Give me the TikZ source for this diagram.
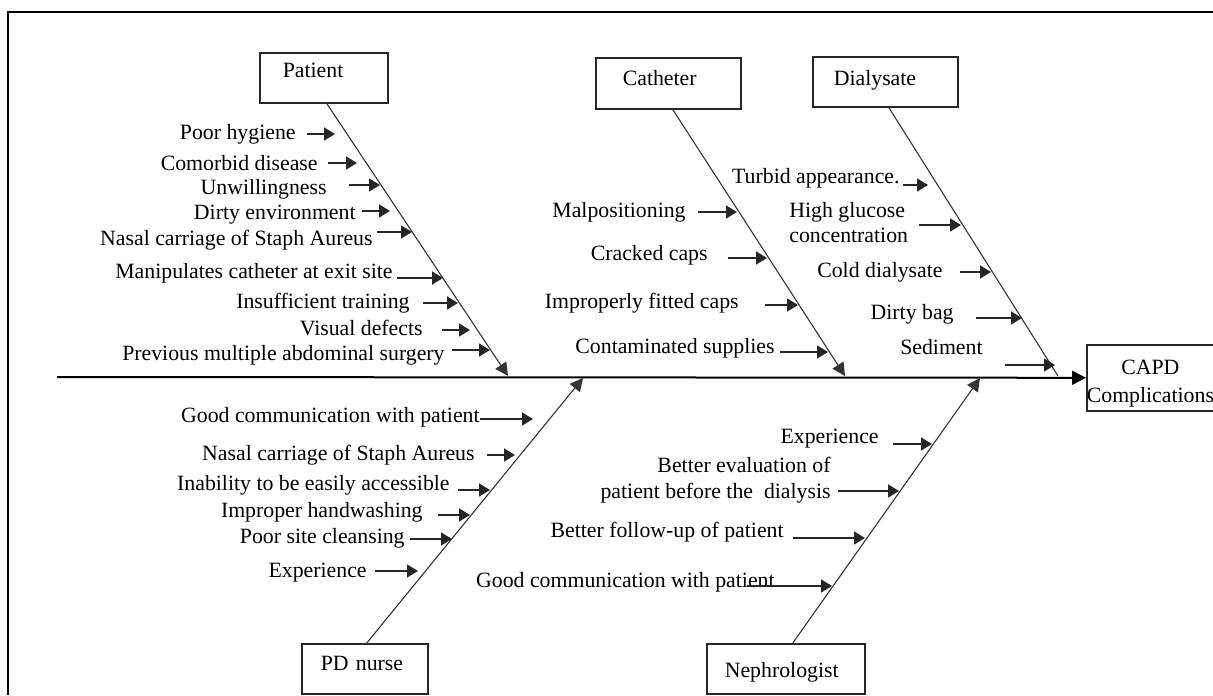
\documentclass[tikz,border=0pt]{standalone}
\usepackage{fontspec}
\setmainfont{Liberation Serif}
\usetikzlibrary{arrows.meta}
% name, anchor, text, label x, label y, arrow start x, arrow end x, arrow y
\newcommand\fbcause[8]{%
  \node[lab, anchor=#2] (#1) at (#4,#5) {#3};
  \coordinate (#1s) at (#6,#8);
  \coordinate (#1e) at (#7,#8);
  \draw[cause] (#1s) -- (#1e);}
\begin{document}
\begin{tikzpicture}[x=0.5pt, y=-0.5pt,
  font=\fontsize{10.9}{13}\selectfont,
  lab/.style={inner sep=0pt},
  cause/.style={line width=0.8pt, draw=black!85, -{Triangle[length=5.5pt,width=6.5pt]}},
  bone/.style={line width=0.55pt, draw=black!80},
  bonearrow/.style={bone, -{Triangle[length=6.5pt,width=6.5pt]}},
  spine/.style={line width=1pt, -{Triangle[length=7pt,width=7pt]}},
  box/.style={draw=black!85, line width=0.8pt, inner ysep=0pt, align=left, anchor=north west}]
\useasboundingbox (0,0) rectangle (1213,695);
% frame
\draw[line width=1.3pt] (8,695) -- (8,12) -- (1213,12);
% category boxes
\node[box, text width=41pt, inner xsep=11.5pt, text height=12.5pt, text depth=12.5pt] (P) at (259,52) {Patient};
\node[box, text width=45.5pt, inner xsep=13.5pt, text height=14pt, text depth=11.5pt] (K) at (595,57) {Catheter};
\node[box, text width=51.5pt, inner xsep=10.5pt, text height=14.5pt, text depth=10.5pt] (D) at (812,56) {Dialysate};
\node[box, text width=44pt, inner xsep=9.5pt, text height=13.5pt, text depth=11.5pt] (N) at (301,643) {PD nurse};
\node[box, text width=61pt, inner xsep=9pt, text height=17pt, text depth=8pt] (M) at (706,643) {Nephrologist};
\node[box, align=center, inner xsep=0pt, minimum width=63pt, text height=29pt, text depth=4pt,
      font=\fontsize{10.9}{14}\selectfont] (C) at (1086,344) {CAPD\\Complications};
% spine
\coordinate (sL) at (57,377);
\draw[spine] (sL) -- (C.west);
% bones
\coordinate (Pb) at (508,376);
\draw[bonearrow] ([xshift=1.5pt]P.south) -- (Pb);
\coordinate (Kb) at (845,376);
\draw[bonearrow] ([xshift=2.25pt]K.south) -- (Kb);
\coordinate (Db) at (1058,376);
\draw[bone] ([xshift=1.75pt]D.south) -- (Db);
\coordinate (Nb) at (583,378);
\draw[bonearrow] ([xshift=1pt]N.north) -- (Nb);
\coordinate (Mb) at (980,378);
\draw[bonearrow] ([xshift=3.5pt]M.north) -- (Mb);
% Patient causes
\fbcause{p1}{base east}{Poor hygiene}{296}{140}{307}{335}{134}
\fbcause{p2}{base east}{Comorbid disease}{318}{170}{328}{357}{163}
\fbcause{p3}{base east}{Unwillingness}{327}{195}{349}{380}{185}
\fbcause{p4}{base east}{Dirty environment}{356}{220}{362}{390}{211}
\fbcause{p5}{base east}{Nasal carriage of Staph Aureus}{373}{245}{377}{412}{232}
\fbcause{p6}{base east}{Manipulates catheter at exit site}{393}{278}{397}{443}{278}
\fbcause{p7}{base east}{Insufficient training}{410}{308}{423}{458}{303}
\fbcause{p8}{base east}{Visual defects}{423}{335}{442}{470}{330}
\fbcause{p9}{base east}{Previous multiple abdominal surgery}{445}{360}{452}{490}{350}
% Catheter causes
\fbcause{k1}{base east}{Malpositioning}{686}{217}{698}{737}{212}
\fbcause{k2}{base east}{Cracked caps}{708}{260}{728}{767}{258}
\fbcause{k3}{base east}{Improperly fitted caps}{739}{308}{765}{798}{305}
\fbcause{k4}{base east}{Contaminated supplies}{775}{353}{780}{828}{352}
% Dialysate causes
\fbcause{d1}{base east}{Turbid appearance.}{900}{184}{903}{928}{185}
\fbcause{d2}{base west}{\begin{tabular}[t]{@{}l@{}}High glucose\\concentration\end{tabular}}{789}{217}{919}{961}{225}
\fbcause{d3}{base east}{Cold dialysate}{943}{277}{960}{991}{272}
\fbcause{d4}{base east}{Dirty bag}{954}{319}{976}{1022}{318}
\fbcause{d5}{base east}{Sediment}{983}{354}{1005}{1055}{365}
% PD nurse causes
\fbcause{n1}{base east}{Good communication with patient}{480}{422}{480}{533}{419}
\fbcause{n2}{base east}{Nasal carriage of Staph Aureus}{475}{460}{487}{515}{455}
\fbcause{n3}{base east}{Inability to be easily accessible}{450}{490}{458}{490}{490}
\fbcause{n4}{base east}{Improper handwashing}{423}{517}{438}{470}{515}
\fbcause{n5}{base east}{Poor site cleansing}{405}{543}{410}{452}{539}
\fbcause{n6}{base east}{Experience}{367}{577}{375}{418}{571}
% Nephrologist causes
\fbcause{m1}{base east}{Experience}{879}{443}{893}{932}{444}
\fbcause{m2}{base east}{\begin{tabular}[t]{@{}r@{}}Better evaluation of\\patient before the\ \ dialysis\end{tabular}}{831}{472}{838}{899}{491}
\fbcause{m3}{base east}{Better follow-up of patient}{784}{537}{793}{865}{538}
\fbcause{m4}{base east}{Good communication with patient}{775}{587}{747}{832}{586}
\end{tikzpicture}
\end{document}
